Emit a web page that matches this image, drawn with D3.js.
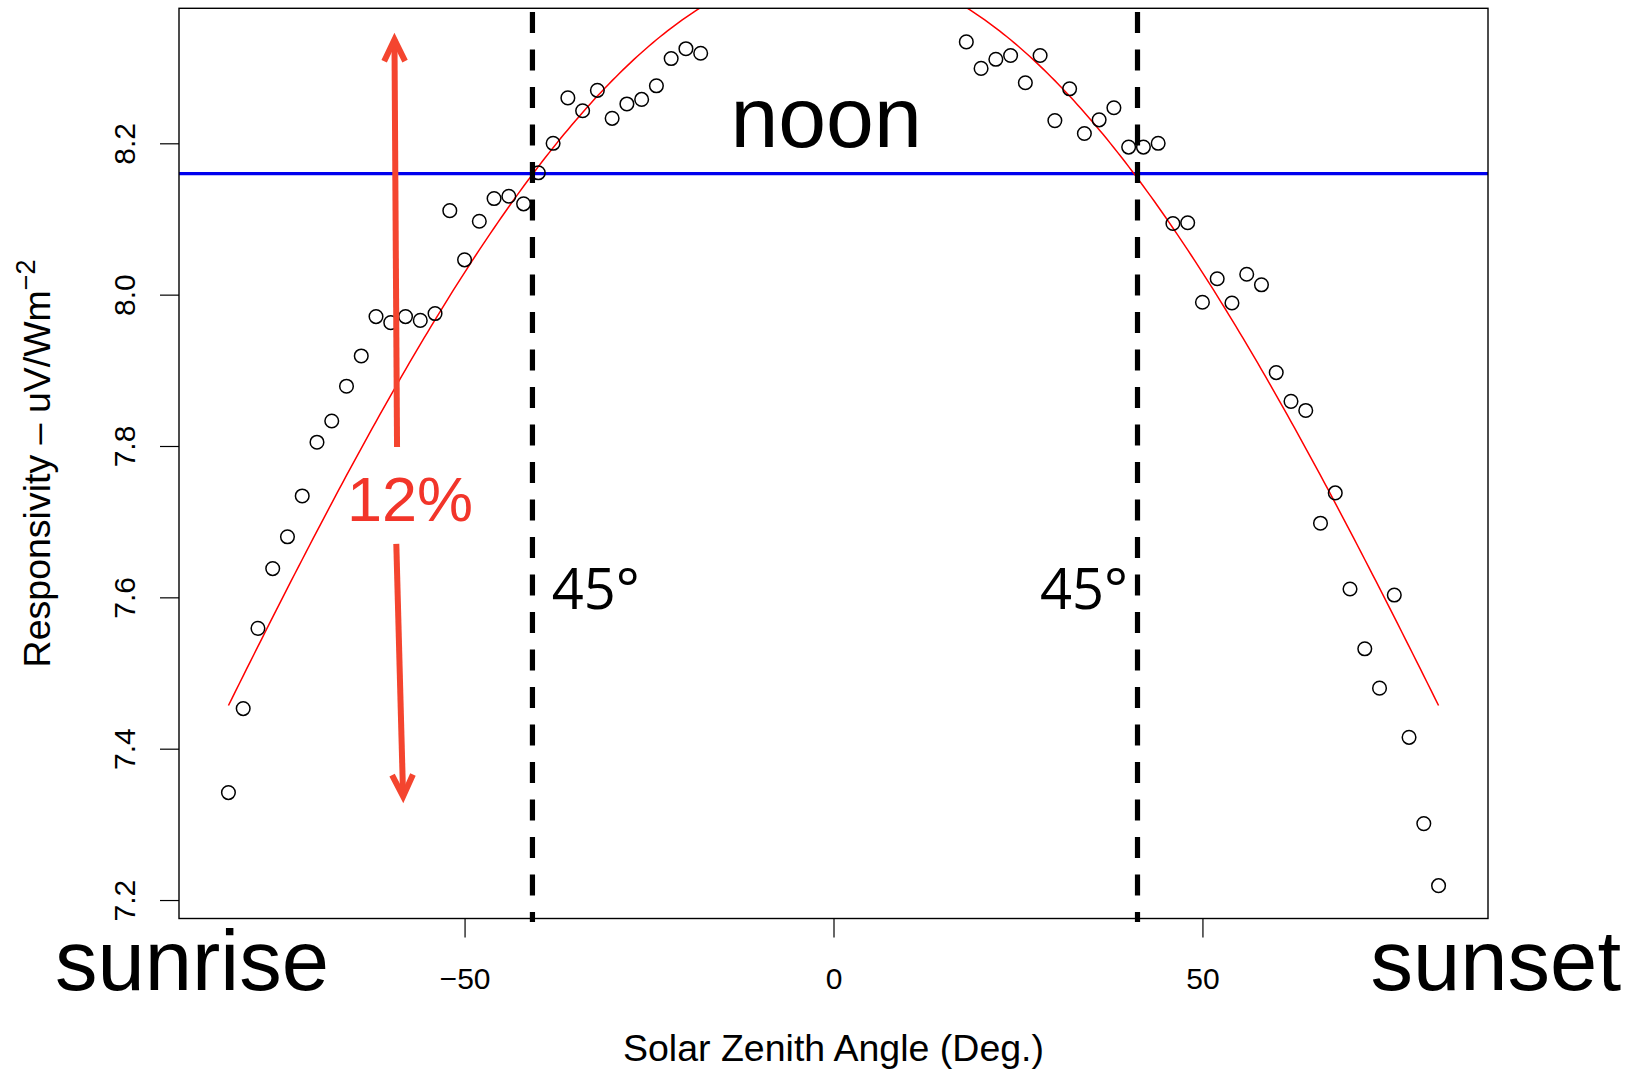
<!DOCTYPE html>
<html>
<head>
<meta charset="utf-8">
<script src="https://cdn.jsdelivr.net/npm/d3@7"></script>
<style>
  html, body { margin: 0; padding: 0; background: #fff; }
  svg { display: block; }
  text { font-family: "Liberation Sans", Arial, Helvetica, sans-serif; }
</style>
</head>
<body>
<svg id="chart" width="1643" height="1074"></svg>
<script>
// Solar zenith angle (deg) and responsivity, morning branch (sun rising)
const sunriseAngles = [-82, -80, -78, -76, -74, -72, -70, -68, -66, -64, -62, -60, -58, -56, -54, -52, -50,
                       -48, -46, -44, -42, -40, -38, -36, -34, -32, -30, -28, -26, -24, -22, -20, -18];
const sunriseResp   = [7.342, 7.453, 7.559, 7.638, 7.680, 7.734, 7.805, 7.833, 7.879, 7.919, 7.971, 7.963,
                       7.971, 7.966, 7.975, 8.111, 8.046, 8.097, 8.127, 8.130, 8.120, 8.161, 8.200, 8.260,
                       8.243, 8.270, 8.233, 8.252, 8.258, 8.276, 8.312, 8.325, 8.319];

// Afternoon branch (sun setting)
const sunsetAngles = [18, 20, 22, 24, 26, 28, 30, 32, 34, 36, 38, 40, 42, 44, 46, 48, 50,
                      52, 54, 56, 58, 60, 62, 64, 66, 68, 70, 72, 74, 76, 78, 80, 82];
const sunsetResp   = [8.334, 8.299, 8.311, 8.316, 8.280, 8.316, 8.230, 8.272, 8.213, 8.231, 8.247, 8.195,
                      8.195, 8.200, 8.094, 8.095, 7.990, 8.021, 7.989, 8.027, 8.013, 7.897, 7.859, 7.847,
                      7.698, 7.738, 7.611, 7.532, 7.480, 7.603, 7.415, 7.301, 7.219];

// Cosine fit: resp = intercept + slope * cos(SZA), drawn over the measured angle span
const fitIntercept = 7.299;
const fitCosSlope  = 1.136;
const fitSpan      = [-82, 82];

// Reference responsivity level and the angles where the fit meets it
const refLevel   = 8.16;
const markAngles = [-40.8, 41.2];

const xTicks = [-50, 0, 50];
const yTicks = [7.2, 7.4, 7.6, 7.8, 8.0, 8.2];

const xDomain = [-88.7, 88.7];
const yDomain = [7.1756, 8.3784];

// ---- layout ----
const plot = { left: 179, right: 1488, top: 8.3, bottom: 918.5 };

const svg = d3.select("#chart");

const x = d3.scaleLinear().domain(xDomain).range([plot.left, plot.right]);
const y = d3.scaleLinear().domain(yDomain).range([plot.bottom, plot.top]);

svg.append("defs").append("clipPath").attr("id", "plot-clip")
  .append("rect")
  .attr("x", plot.left).attr("y", plot.top)
  .attr("width", plot.right - plot.left).attr("height", plot.bottom - plot.top);

// reference level
svg.append("line")
  .attr("x1", plot.left).attr("x2", plot.right)
  .attr("y1", y(refLevel)).attr("y2", y(refLevel))
  .attr("stroke", "#0000ee").attr("stroke-width", 3.2);

// fitted curve (clipped at the plot edge like the rest of the panel)
const fitAngles = d3.range(fitSpan[0], fitSpan[1] + 0.001, 0.5);
const fitLine = d3.line()
  .x(a => x(a))
  .y(a => y(fitIntercept + fitCosSlope * Math.cos(a * Math.PI / 180)));
svg.append("path")
  .attr("clip-path", "url(#plot-clip)")
  .attr("d", fitLine(fitAngles))
  .attr("fill", "none").attr("stroke", "#ff0000").attr("stroke-width", 1.5);

// 45-degree markers
svg.append("g").selectAll("line").data(markAngles).join("line")
  .attr("x1", d => x(d)).attr("x2", d => x(d))
  .attr("y1", 12).attr("y2", 922)
  .attr("stroke", "#000").attr("stroke-width", 5.2)
  .attr("stroke-dasharray", "21,16.5");

// measurements
const points = sunriseAngles.map((a, i) => ({ a, r: sunriseResp[i] }))
  .concat(sunsetAngles.map((a, i) => ({ a, r: sunsetResp[i] })));
svg.append("g").selectAll("circle").data(points).join("circle")
  .attr("cx", d => x(d.a)).attr("cy", d => y(d.r))
  .attr("r", 6.8)
  .attr("fill", "none").attr("stroke", "#000").attr("stroke-width", 1.5);

// plot frame
svg.append("rect")
  .attr("x", plot.left).attr("y", plot.top)
  .attr("width", plot.right - plot.left).attr("height", plot.bottom - plot.top)
  .attr("fill", "none").attr("stroke", "#000").attr("stroke-width", 1.4);

// x axis
const fmtX = d => d < 0 ? "\u2212" + Math.abs(d) : String(d);
const gx = svg.append("g")
  .attr("transform", `translate(0,${plot.bottom})`)
  .call(d3.axisBottom(x).tickValues(xTicks).tickSize(19).tickFormat(fmtX));
gx.select(".domain").remove();
gx.selectAll(".tick line").attr("stroke", "#000").attr("stroke-width", 1.2);
gx.selectAll(".tick text")
  .attr("y", 70.5).attr("dy", 0)
  .attr("fill", "#000")
  .style("font-size", "30px")
  .style("font-family", "'Liberation Sans', Arial, sans-serif");

// y axis
const gy = svg.append("g")
  .attr("transform", `translate(${plot.left},0)`)
  .call(d3.axisLeft(y).tickValues(yTicks).tickSize(19).tickFormat(d3.format(".1f")));
gy.select(".domain").remove();
gy.selectAll(".tick line").attr("stroke", "#000").attr("stroke-width", 1.2);
gy.selectAll(".tick text")
  .attr("x", 0).attr("dy", 0)
  .attr("transform", "translate(-44,0) rotate(-90)")
  .attr("text-anchor", "middle")
  .attr("fill", "#000")
  .style("font-size", "30px")
  .style("font-family", "'Liberation Sans', Arial, sans-serif");

// axis titles
svg.append("text")
  .attr("x", (plot.left + plot.right) / 2).attr("y", 1061)
  .attr("text-anchor", "middle")
  .style("font-size", "37.5px")
  .text("Solar Zenith Angle (Deg.)");

const yTitle = svg.append("text")
  .attr("transform", `translate(50,${(plot.top + plot.bottom) / 2}) rotate(-90)`)
  .attr("text-anchor", "middle")
  .style("font-size", "37.5px");
yTitle.append("tspan").text("Responsivity \u2013 uV/Wm");
yTitle.append("tspan").attr("dy", -15).style("font-size", "27px").text("\u22122");

// annotations
svg.append("text")
  .attr("x", x(-1.0)).attr("y", y(8.195))
  .attr("text-anchor", "middle")
  .style("font-size", "86px")
  .text("noon");

svg.append("text")
  .attr("x", 55).attr("y", 990)
  .style("font-size", "85px")
  .text("sunrise");

svg.append("text")
  .attr("x", 1621).attr("y", 990)
  .attr("text-anchor", "end")
  .style("font-size", "85px")
  .text("sunset");

svg.append("text")
  .attr("x", x(-38.2)).attr("y", y(7.585))
  .style("font-family", "'Open Sans', sans-serif")
  .style("font-size", "56px")
  .text("45°");

svg.append("text")
  .attr("x", x(39.9)).attr("y", y(7.585))
  .attr("text-anchor", "end")
  .style("font-family", "'Open Sans', sans-serif")
  .style("font-size", "56px")
  .text("45°");

// 12% span arrow, split around its label
const arrowColor = "#f4452f";
const arrowUp   = { x0: -59.15, y0: 7.7986, x1: -59.5, y1: 8.337 };
const arrowDown = { x0: -59.25, y0: 7.6707, x1: -58.33, y1: 7.337 };
const ag = svg.append("g")
  .attr("stroke", arrowColor).attr("stroke-width", 6).attr("fill", "none")
  .attr("stroke-linecap", "butt").attr("stroke-linejoin", "miter");
[arrowUp, arrowDown].forEach(s => {
  const X0 = x(s.x0), Y0 = y(s.y0), X1 = x(s.x1), Y1 = y(s.y1);
  ag.append("line").attr("x1", X0).attr("y1", Y0).attr("x2", X1).attr("y2", Y1);
  const ang = Math.atan2(Y1 - Y0, X1 - X0);
  const len = 24, spread = 0.45;
  const p1 = [X1 - len * Math.cos(ang - spread), Y1 - len * Math.sin(ang - spread)];
  const p2 = [X1 - len * Math.cos(ang + spread), Y1 - len * Math.sin(ang + spread)];
  ag.append("path").attr("d", `M${p1[0]},${p1[1]}L${X1},${Y1}L${p2[0]},${p2[1]}`);
});

svg.append("text")
  .attr("x", x(-57.4)).attr("y", y(7.701))
  .attr("text-anchor", "middle")
  .attr("fill", "#f2352a")
  .style("font-size", "63px")
  .text("12%");
</script>
</body>
</html>
